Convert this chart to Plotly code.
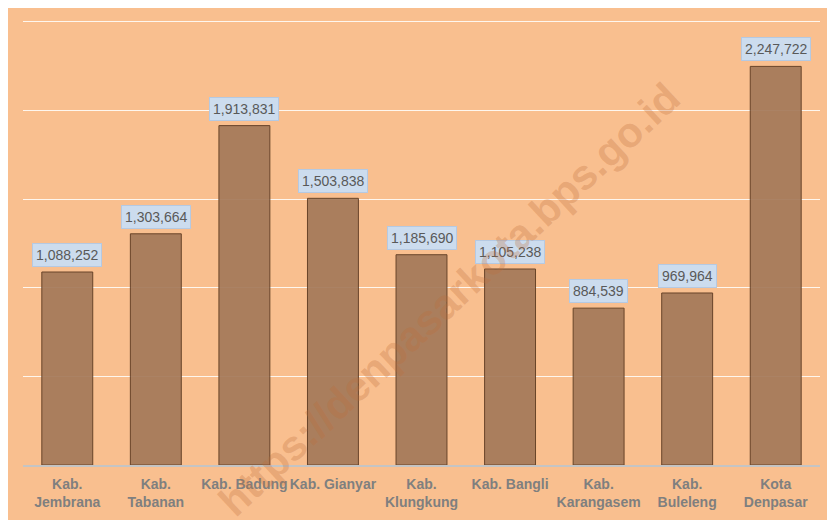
import plotly.graph_objects as go

# data
kabupaten = ["Kab.<br>Jembrana", "Kab.<br>Tabanan", "Kab. Badung", "Kab. Gianyar",
             "Kab.<br>Klungkung", "Kab. Bangli", "Kab.<br>Karangasem",
             "Kab.<br>Buleleng", "Kota<br>Denpasar"]
nilai = [1088252, 1303664, 1913831, 1503838, 1185690, 1105238, 884539, 969964, 2247722]

fig = go.Figure()

fig.add_trace(go.Bar(
    x=kabupaten, y=nilai,
    marker=dict(color="#A57A5A", line=dict(color="#5E3B22", width=1)),
    opacity=0.93,
    hoverinfo="x+y",
))

# label kotak biru di atas batang
for k, v in zip(kabupaten, nilai):
    fig.add_annotation(
        x=k, y=v, text=f"{v:,}", showarrow=False,
        yanchor="bottom", yshift=5,
        font=dict(family="Liberation Sans", size=14, color="#595959"),
        bgcolor="#CCDCEE", bordercolor="#B5C9E2", borderwidth=1, borderpad=3,
    )

# watermark
fig.add_annotation(
    xref="paper", yref="paper", x=0.535, y=0.37,
    text="<b>https://denpasarkota.bps.go.id</b>", showarrow=False, textangle=-43,
    font=dict(family="Liberation Sans", size=42, color="rgba(190,110,60,0.3)"),
)

fig.update_xaxes(
    showline=True, linecolor="#C4C4C4", linewidth=2,
    tickfont=dict(family="Liberation Sans", size=14, color="#7F7F7F"),
    tickprefix="<b>", ticksuffix="</b>", tickangle=0, automargin=False,
    ticks="outside", ticklen=5, tickcolor="rgba(0,0,0,0)",
)
fig.update_yaxes(
    range=[0, 2515000], tickvals=[500000, 1000000, 1500000, 2000000, 2500000],
    showticklabels=False,
    showgrid=True, gridcolor="rgba(255,255,255,0.85)", gridwidth=1,
    zeroline=False,
)

# halaman punya margin 8px, jadi margin plot dikurangi 8
fig.update_layout(
    width=835, height=520,
    margin=dict(l=15, r=23, t=11, b=63),
    paper_bgcolor="#F9BF8F", plot_bgcolor="#F9BF8F",
    bargap=0.425, showlegend=False,
    font=dict(family="Liberation Sans"),
)

fig.write_html("out.html")
